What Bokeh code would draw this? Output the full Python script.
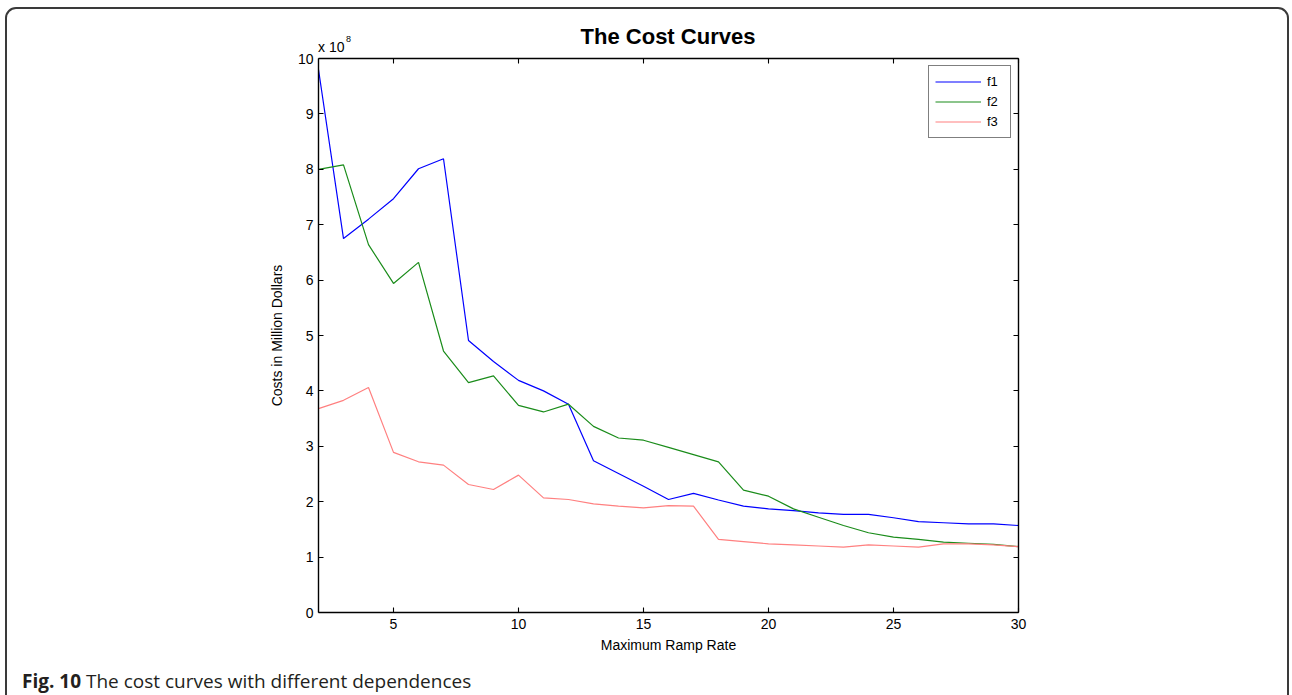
from bokeh.plotting import figure
from bokeh.models import LinearAxis, FixedTicker, Div, InlineStyleSheet
from bokeh.layouts import column
from bokeh.embed import file_html
from bokeh.resources import INLINE

# ---- data (costs in units of 1e8 dollars) ----
ramp_rate = list(range(2, 31))
f1 = [9.80, 6.75, 7.10, 7.47, 8.01, 8.19, 4.91, 4.53, 4.19, 4.00, 3.76, 2.74, 2.51,
      2.28, 2.04, 2.15, 2.03, 1.92, 1.87, 1.84, 1.80, 1.77, 1.77, 1.71, 1.64, 1.62,
      1.60, 1.60, 1.57]
f2 = [8.00, 8.08, 6.64, 5.94, 6.32, 4.72, 4.15, 4.27, 3.74, 3.62, 3.76, 3.36, 3.15,
      3.11, 2.98, 2.85, 2.72, 2.21, 2.10, 1.87, 1.72, 1.57, 1.44, 1.36, 1.32, 1.27,
      1.25, 1.23, 1.19]
f3 = [3.68, 3.83, 4.06, 2.89, 2.72, 2.66, 2.31, 2.22, 2.48, 2.07, 2.04, 1.96, 1.92,
      1.89, 1.93, 1.92, 1.32, 1.28, 1.24, 1.22, 1.20, 1.18, 1.22, 1.20, 1.18, 1.24,
      1.24, 1.22, 1.19]
x_ticks = [5, 10, 15, 20, 25, 30]
y_ticks = list(range(0, 11))
title_text = "The Cost Curves"
exp_text, exp_power = "x 10", "8"
caption_bold, caption_text = "Fig. 10", "The cost curves with different dependences"

W = 1292
HEAD = 56          # header strip (title + exponent)
CAP = 30           # caption strip
OVERLAP = 8        # figure slides up under the transparent part of the header
FIG_TOP = HEAD - OVERLAP
FIG_H = 695 - CAP - FIG_TOP
L, R = 318, 1018   # frame left/right in page px
T, B = 58, 612     # frame top/bottom in page px

FONT = "Liberation Sans"

p = figure(width=W, height=FIG_H, x_range=(2, 30), y_range=(0, 10),
           output_backend="svg", toolbar_location=None,
           min_border_left=L, min_border_right=W - R,
           min_border_top=T - FIG_TOP, min_border_bottom=FIG_TOP + FIG_H - B,
           title=None, background_fill_color="white",
           border_fill_color="white", border_fill_alpha=0)
p.margin = (-OVERLAP, 0, 0, 0)
p.outline_line_color = None
p.grid.visible = False


def style_axis(ax, labels=True):
    ax.axis_line_color = "black"
    ax.axis_line_width = 1.4
    ax.major_tick_line_color = "black"
    ax.major_tick_line_width = 1.1
    ax.major_tick_in = 5
    ax.major_tick_out = 0
    ax.minor_tick_line_color = None
    ax.major_label_text_font = FONT
    if labels:
        ax.major_label_text_font_size = "14px"
        ax.major_label_text_color = "black"
    else:
        ax.major_label_text_font_size = "1px"
        ax.major_label_text_color = None
        ax.major_label_standoff = 0
    ax.axis_label_text_font = FONT
    ax.axis_label_text_font_size = "14px"
    ax.axis_label_text_font_style = "normal"
    ax.axis_label_text_color = "black"


xa = p.xaxis[0]
ya = p.yaxis[0]
xa.ticker = FixedTicker(ticks=x_ticks)
ya.ticker = FixedTicker(ticks=y_ticks)
style_axis(xa)
style_axis(ya)
xa.major_label_standoff = 6
ya.major_label_standoff = 5
xa.axis_label = "Maximum Ramp Rate"
xa.axis_label_standoff = 5
ya.axis_label = "Costs in Million Dollars"
ya.axis_label_standoff = 10

top = LinearAxis(ticker=FixedTicker(ticks=x_ticks))
style_axis(top, labels=False)
p.add_layout(top, "above")
right = LinearAxis(ticker=FixedTicker(ticks=y_ticks))
style_axis(right, labels=False)
p.add_layout(right, "right")

p.line(ramp_rate, f1, line_color="#0000ff", line_width=1.2, legend_label="f1")
p.line(ramp_rate, f2, line_color="#1a8c1a", line_width=1.2, legend_label="f2")
p.line(ramp_rate, f3, line_color="#ff8080", line_width=1.2, legend_label="f3")

lg = p.legend[0]
lg.location = "top_right"
lg.margin = 7
lg.padding = 6
lg.spacing = 1
lg.glyph_width = 46
lg.glyph_height = 19
lg.label_height = 19
lg.label_width = 17
lg.label_standoff = 6
lg.border_line_color = "black"
lg.border_line_width = 1
lg.background_fill_color = "white"
lg.background_fill_alpha = 1
lg.label_text_font = FONT
lg.label_text_font_size = "13px"
lg.label_text_color = "black"

header = Div(width=W, height=HEAD, margin=0, text=(
    f'<div style="position:relative;width:{W}px;height:{HEAD}px;font-family:\'{FONT}\';color:black;">'
    f'<span style="position:absolute;left:468px;top:26px;width:400px;text-align:center;'
    f'font-size:22px;line-height:22px;font-weight:bold;white-space:nowrap;">{title_text}</span>'
    f'<span style="position:absolute;left:318px;top:40px;font-size:14px;line-height:14px;'
    f'white-space:nowrap;">{exp_text}</span>'
    f'<span style="position:absolute;left:346px;top:35px;font-size:9px;line-height:9px;">{exp_power}</span>'
    f'</div>'))

caption = Div(width=W, height=CAP, margin=0, text=(
    f'<div style="position:relative;width:{W}px;height:{CAP}px;font-family:\'Open Sans\';'
    f'color:#231f20;font-size:19px;line-height:19px;">'
    f'<span style="position:absolute;left:22px;top:7px;white-space:nowrap;">'
    f'<b>{caption_bold}</b> {caption_text}</span></div>'))

frame_css = InlineStyleSheet(css="""
:host { position: relative; overflow: hidden; }
:host::after {
  content: ""; position: absolute; left: 5px; top: 7px;
  width: 1280px; height: 760px;
  border: 2px solid #3a3a3a; border-radius: 11px;
  pointer-events: none; z-index: 10;
}
""")

page = column(header, p, caption, spacing=0, margin=0, stylesheets=[frame_css])

open("out.html", "w").write(file_html(page, INLINE))
